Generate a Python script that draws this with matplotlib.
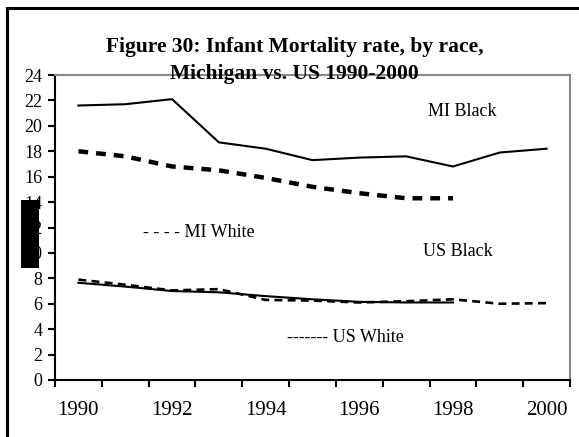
import matplotlib
matplotlib.use("Agg")
import matplotlib.pyplot as plt
from matplotlib.patches import Rectangle

years = [1990, 1991, 1992, 1993, 1994, 1995, 1996, 1997, 1998, 1999, 2000]
mi_black = [21.6, 21.7, 22.1, 18.7, 18.2, 17.3, 17.5, 17.6, 16.8, 17.9, 18.2]
us_black = [18.0, 17.6, 16.8, 16.5, 15.9, 15.2, 14.7, 14.3, 14.3]
mi_white = [7.9, 7.5, 7.05, 7.15, 6.3, 6.25, 6.1, 6.2, 6.35, 6.0, 6.05]
us_white = [7.65, 7.35, 7.0, 6.9, 6.6, 6.35, 6.15, 6.1, 6.1]
x_labels = ["1990", "1992", "1994", "1996", "1998", "2000"]
y_ticks = [0, 2, 4, 6, 8, 10, 12, 14, 16, 18, 20, 22, 24]

plt.rcParams['font.family'] = ['Liberation Serif', 'DejaVu Serif']

W, H = 579, 437
fig = plt.figure(figsize=(W / 100, H / 100), dpi=100)
ax = fig.add_axes([55 / W, 1 - 380 / H, (570 - 55) / W, (380 - 75) / H])

idx = list(range(len(years)))
ax.plot(idx, mi_black, color='black', lw=1.5, solid_joinstyle='miter')
ax.plot(idx[:len(us_black)], us_black, color='black', lw=3.2, dashes=(2.2, 1.8))
ax.plot(idx, mi_white, color='black', lw=1.9, dashes=(3.0, 2.0))
ax.plot(idx[:len(us_white)], us_white, color='black', lw=1.5)

ax.set_xlim(-0.5, len(years) - 0.5)
ax.set_ylim(0, 24)
ax.set_yticks(y_ticks)
ax.set_yticklabels([str(v) for v in y_ticks], fontsize=13)
ax.set_xticks([i - 0.5 for i in range(len(years) + 1)])
ax.set_xticklabels([])
ax.set_xticks([0, 2, 4, 6, 8, 10], minor=True)
ax.set_xticklabels(x_labels, minor=True, fontsize=15)
ax.tick_params(axis='x', which='major', direction='out', length=5, width=1.5)
ax.tick_params(axis='x', which='minor', length=0, pad=15)
ax.tick_params(axis='y', direction='out', length=5, width=1.5, pad=4)

for s in ['left', 'bottom']:
    ax.spines[s].set_color('black')
    ax.spines[s].set_linewidth(1.5)
for s in ['top', 'right']:
    ax.spines[s].set_color('#888888')
    ax.spines[s].set_linewidth(1.5)

# outer border
fig.patches.append(Rectangle((7 / W, -0.1), 1.2, 1 - 8 / H + 0.1,
                             transform=fig.transFigure, fill=False,
                             edgecolor='black', lw=2.2))

fig.text(295 / W, 1 - 47 / H, "Figure 30: Infant Mortality rate, by race,",
         ha='center', va='center', fontsize=15.5, fontweight='bold')
fig.text(294 / W, 1 - 74 / H, "Michigan vs. US 1990-2000",
         ha='center', va='center', fontsize=15.5, fontweight='bold')

fig.text(428 / W, 1 - 112 / H, "MI Black", ha='left', va='center', fontsize=13)
fig.text(423 / W, 1 - 252 / H, "US Black", ha='left', va='center', fontsize=13)
fig.text(143 / W, 1 - 233 / H, "- - - - MI White", ha='left', va='center', fontsize=13)
fig.text(287 / W, 1 - 338 / H, "------- US White", ha='left', va='center', fontsize=13)

fig.patches.append(Rectangle((21 / W, 1 - 268 / H), 18 / W, 68 / H,
                             transform=fig.transFigure, facecolor='black',
                             edgecolor='none', zorder=10))

fig.savefig("out.png", dpi=100)
